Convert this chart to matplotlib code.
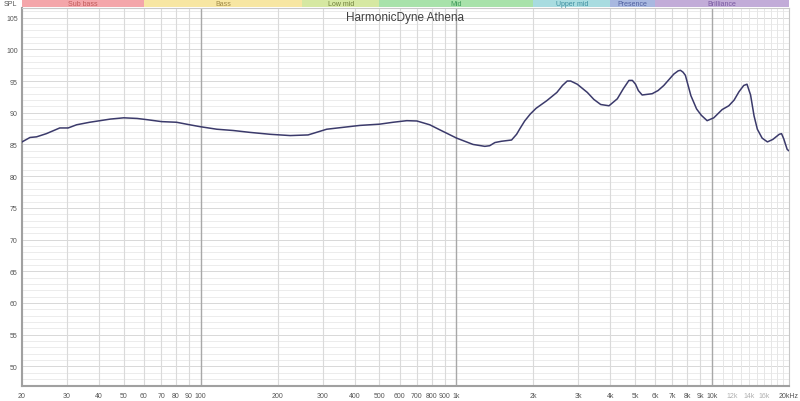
import numpy as np
import matplotlib.pyplot as plt
from matplotlib.patches import Rectangle

# frequency response (Hz, dB SPL)
freqs = [20, 21.5, 22.8, 24.9, 28.1, 30.3, 32.7, 36.8, 40.4, 44.3, 50, 56.4,
         61.9, 70.3, 80.4, 90.6, 99.6, 115.6, 134, 156, 187, 224, 263, 311,
         361, 419, 501, 566, 640, 701, 787, 862, 1002, 1162, 1292, 1350, 1415,
         1500, 1644, 1720, 1773, 1850, 1946, 2050, 2257, 2472, 2600, 2713,
         2800, 2971, 3253, 3450, 3669, 3954, 4261, 4500, 4731, 4880, 5020,
         5150, 5328, 5830, 6150, 6476, 7088, 7366, 7520, 7700, 7866, 8265,
         8700, 9080, 9567, 10160, 10953, 11630, 12200, 12740, 13300, 13700,
         14150, 14600, 15040, 15700, 16470, 17300, 18310, 18700, 19070, 19680,
         20000]
spl = [85.4, 86.1, 86.2, 86.7, 87.6, 87.6, 88.1, 88.5, 88.75, 89.0, 89.2, 89.1,
       88.9, 88.6, 88.5, 88.1, 87.8, 87.4, 87.2, 86.9, 86.6, 86.4, 86.5, 87.4,
       87.7, 88.0, 88.2, 88.5, 88.75, 88.7, 88.1, 87.3, 86.0, 85.0, 84.7, 84.8, 85.3,
       85.5, 85.7, 86.6, 87.5, 88.7, 89.8, 90.7, 91.9, 93.2, 94.3, 95.0,
       95.0, 94.5, 93.2, 92.1, 91.3, 91.1, 92.2, 93.8, 95.1, 95.1, 94.5,
       93.5, 92.8, 93.0, 93.5, 94.3, 96.1, 96.6, 96.7, 96.4, 95.9, 92.7,
       90.6, 89.6, 88.75, 89.2, 90.5, 91.1, 92.0, 93.3, 94.3, 94.5,
       92.8, 89.5, 87.4, 86.0, 85.4, 85.8, 86.6, 86.7, 85.9, 84.2,
       84.0]

# frequency bands across the top
band_names = ['Sub bass', 'Bass', 'Low mid', 'Mid', 'Upper mid', 'Presence', 'Brilliance']
band_edges = [20, 60, 250, 500, 2000, 4000, 6000, 20000]
band_fill = ['#f4a6aa', '#f7e6a2', '#d6e8a2', '#a8e2aa', '#a8dce0', '#a8b8e0', '#c2acd8']
band_text = ['#c05a5a', '#a08a48', '#70803c', '#3f9a5a', '#3f8fa0', '#5060a0', '#7858a0']

grid_freqs = [20, 30, 40, 50, 60, 70, 80, 90, 100, 200, 300, 400, 500, 600, 700,
              800, 900, 1000, 2000, 3000, 4000, 5000, 6000, 7000, 8000, 9000,
              10000, 11000, 12000, 13000, 14000, 15000, 16000, 17000, 18000,
              19000, 20000]
grid_labels = ['20', '30', '40', '50', '60', '70', '80', '90', '100', '200', '300',
               '400', '500', '600', '700', '800', '900', '1k', '2k', '3k', '4k',
               '5k', '6k', '7k', '8k', '9k', '10k', '', '12k', '', '14k', '',
               '16k', '', '', '', '20kHz']
faint_labels = ['12k', '14k', '16k']

fig = plt.figure(figsize=(8, 4.02), dpi=100, facecolor='white')
ax = fig.add_axes([22 / 800, 15 / 402, 767 / 800, 378.5 / 402])
bx = fig.add_axes([22 / 800, 394 / 402, 767 / 800, 7 / 402])

ax.semilogx(freqs, spl, color='#3b3a6b', linewidth=1.1, zorder=5)
ax.set_xlim(20, 20000)
ax.set_ylim(46.9, 106.6)

# vertical grid
ax.set_xticks(grid_freqs)
ax.set_xticklabels(grid_labels)
ax.xaxis.set_minor_locator(plt.NullLocator())
for f in grid_freqs:
    if f in (100, 1000, 10000):
        ax.axvline(f, color='#a8a8a8', linewidth=1.0, zorder=1)
    elif f > 10000:
        ax.axvline(f, color='#e6e6e6', linewidth=0.7, zorder=1)
    else:
        ax.axvline(f, color='#dadada', linewidth=0.8, zorder=1)

# horizontal grid
ax.set_yticks(np.arange(50, 106, 5))
ax.set_yticks(np.arange(47, 107, 1), minor=True)
for v in range(47, 107):
    c = '#d8d8d8' if v % 5 == 0 else '#ececec'
    ax.axhline(v, color=c, linewidth=0.7, zorder=0)

ax.tick_params(axis='both', which='both', length=0, labelsize=5,
               labelcolor='#555555')
ax.tick_params(axis='x', pad=4)
ax.tick_params(axis='y', pad=3)
for lab in ax.get_xticklabels() + ax.get_yticklabels():
    lab.set_family('Liberation Sans')
for lab in ax.get_xticklabels():
    if lab.get_text() in faint_labels:
        lab.set_color('#b0b0b0')

for side in ['left', 'bottom']:
    ax.spines[side].set_color('#a0a0a0')
    ax.spines[side].set_linewidth(1.5)
for side in ['top', 'right']:
    ax.spines[side].set_color('#c8c8c8')
    ax.spines[side].set_linewidth(0.8)

ax.text(0.5, 0.975, 'HarmonicDyne Athena', transform=ax.transAxes,
        ha='center', va='center', fontsize=8.5, color='#404040',
        family='Liberation Sans')

# band bar
bx.set_xscale('log')
bx.set_xlim(20, 20000)
bx.set_ylim(0, 1)
bx.axis('off')
for i, name in enumerate(band_names):
    lo, hi = band_edges[i], band_edges[i + 1]
    bx.add_patch(Rectangle((lo, 0), hi - lo, 1, facecolor=band_fill[i],
                           edgecolor='none'))
    mid = np.sqrt(lo * hi)
    bx.text(mid, 0.5, name, ha='center', va='center', fontsize=5,
            color=band_text[i], family='Liberation Sans')

fig.text(10 / 800, 397.5 / 402, 'SPL', ha='center', va='center', fontsize=5,
         color='#555555', family='Liberation Sans')

plt.savefig('out.png', dpi=100)
